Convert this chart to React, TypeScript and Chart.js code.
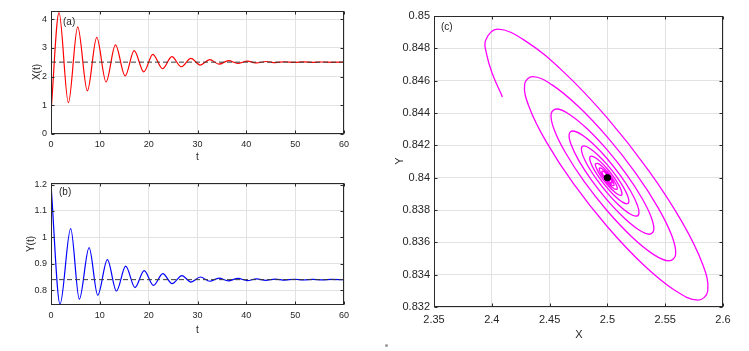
import React, { useEffect, useRef } from "react";
import { Chart, registerables } from "chart.js";

Chart.register(...registerables);

// ---------- data: X(t) (panel a) ----------
const tX = [0, 1.64, 3.56, 5.47, 7.45, 9.37, 11.28, 13.2, 15.18, 17.03, 19.0, 20.86, 22.84, 24.75, 26.67, 28.65, 30.56, 32.5, 34.4, 36.35, 38.25, 40.2, 42.1, 44.05, 45.95, 47.9, 49.8, 51.75, 53.65, 55.6, 57.5, 60];
const xValues = [0.75, 4.22, 1.09, 3.73, 1.5, 3.36, 1.81, 3.1, 2.02, 2.9, 2.16, 2.77, 2.27, 2.69, 2.34, 2.63, 2.4, 2.59, 2.43, 2.555, 2.455, 2.535, 2.472, 2.522, 2.482, 2.514, 2.489, 2.509, 2.493, 2.506, 2.495, 2.502];
const xEquilibrium = 2.5;

// ---------- data: Y(t) (panel b) ----------
const tY = [0, 1.85, 4.03, 5.8, 7.8, 9.57, 11.55, 13.4, 15.3, 17.2, 19.08, 20.98, 22.9, 24.8, 26.8, 28.65, 30.6, 32.5, 34.4, 36.3, 38.3, 40.2, 42.1, 44.0, 45.9, 47.9, 49.8, 51.7, 53.6, 55.5, 57.5, 60];
const yValues = [1.2, 0.747, 1.0335, 0.766, 0.9616, 0.781, 0.916, 0.797, 0.891, 0.81, 0.8745, 0.818, 0.863, 0.825, 0.8556, 0.831, 0.85, 0.834, 0.846, 0.8355, 0.8445, 0.8365, 0.843, 0.8375, 0.8422, 0.8383, 0.8416, 0.8387, 0.8412, 0.839, 0.8408, 0.8397];
const yEquilibrium = 0.84;

// ---------- data: phase portrait (panel c) ----------
const phaseX = [
  2.4092, 2.4003, 2.3955,
  2.3947, 2.405, 2.429, 2.4625, 2.5, 2.5357, 2.5644, 2.5822, 2.5868, 2.5783, 2.5585, 2.5309, 2.5, 2.4705, 2.4469, 2.4322,
  2.4284, 2.4354, 2.4518, 2.4745, 2.5, 2.5243, 2.5438, 2.5559, 2.559, 2.5533, 2.5398, 2.521, 2.5, 2.48, 2.4639, 2.4539,
  2.4513, 2.4561, 2.4672, 2.4827, 2.5, 2.5165, 2.5298, 2.538, 2.5401, 2.5362, 2.5271, 2.5143, 2.5, 2.4864, 2.4754, 2.4687,
  2.4669, 2.4701, 2.4777, 2.4882, 2.5, 2.5112, 2.5203, 2.5258, 2.5273, 2.5246, 2.5184, 2.5097, 2.5, 2.4907, 2.4833, 2.4787,
  2.4775, 2.4797, 2.4848, 2.492, 2.5, 2.5076, 2.5138, 2.5176, 2.5186, 2.5167, 2.5125, 2.5066, 2.5, 2.4937, 2.4886, 2.4855,
  2.4847, 2.4862, 2.4897, 2.4946, 2.5, 2.5052, 2.5094, 2.5119, 2.5126, 2.5114, 2.5085, 2.5045, 2.5, 2.4957, 2.4923, 2.4902,
  2.4896, 2.493, 2.5, 2.5064, 2.5086, 2.5058, 2.5, 2.4948,
  2.4929, 2.4952, 2.5, 2.5043, 2.5058, 2.5039, 2.5, 2.4964,
  2.4952, 2.4968, 2.5, 2.5029, 2.504, 2.5027, 2.5, 2.4976,
  2.5,
];
const phaseY = [
  0.84499, 0.84646, 0.84764,
  0.848503, 0.849183, 0.848461, 0.846512, 0.843682, 0.840437, 0.837279, 0.834676, 0.832988, 0.832428, 0.833023, 0.834631, 0.836964, 0.83964, 0.842243, 0.84439,
  0.845782, 0.846244, 0.845753, 0.844428, 0.842504, 0.840297, 0.83815, 0.83638, 0.835232, 0.834851, 0.835256, 0.836349, 0.837936, 0.839755, 0.841525, 0.842985,
  0.843931, 0.844246, 0.843912, 0.843011, 0.841702, 0.840202, 0.838742, 0.837539, 0.836758, 0.836499, 0.836774, 0.837518, 0.838596, 0.839834, 0.841037, 0.84203,
  0.842673, 0.842887, 0.84266, 0.842047, 0.841157, 0.840137, 0.839145, 0.838326, 0.837796, 0.83762, 0.837807, 0.838312, 0.839046, 0.839887, 0.840705, 0.84138,
  0.841817, 0.841963, 0.841808, 0.841392, 0.840787, 0.840093, 0.839418, 0.838862, 0.838501, 0.838382, 0.838509, 0.838852, 0.839351, 0.839923, 0.840479, 0.840938,
  0.841236, 0.841335, 0.84123, 0.840946, 0.840535, 0.840064, 0.839605, 0.839226, 0.838981, 0.8389, 0.838986, 0.83922, 0.839559, 0.839948, 0.840326, 0.840638,
  0.84084, 0.840836, 0.840364, 0.839731, 0.839307, 0.839311, 0.8397, 0.840222,
  0.840571, 0.840568, 0.840247, 0.839817, 0.839529, 0.839531, 0.839796, 0.840151,
  0.840388, 0.840387, 0.840168, 0.839876, 0.83968, 0.839681, 0.839861, 0.840102,
  0.84,
];
const equilibriumPoint = { x: 2.5, y: 0.84 };

// ---------- tick values / labels ----------
const timeTicks = [0, 10, 20, 30, 40, 50, 60];
const timeTickLabels = ["0", "10", "20", "30", "40", "50", "60"];
const xTicksA = [0, 1, 2, 3, 4];
const xTickLabelsA = ["0", "1", "2", "3", "4"];
const yTicksB = [0.8, 0.9, 1.0, 1.1, 1.2];
const yTickLabelsB = ["0.8", "0.9", "1", "1.1", "1.2"];
const phaseXTicks = [2.35, 2.4, 2.45, 2.5, 2.55, 2.6];
const phaseXTickLabels = ["2.35", "2.4", "2.45", "2.5", "2.55", "2.6"];
const phaseYTicks = [0.832, 0.834, 0.836, 0.838, 0.84, 0.842, 0.844, 0.846, 0.848, 0.85];
const phaseYTickLabels = ["0.832", "0.834", "0.836", "0.838", "0.84", "0.842", "0.844", "0.846", "0.848", "0.85"];

const FONT = '"Liberation Sans Narrow", "Liberation Sans", Arial, sans-serif';
const TEXT_COLOR = "#262626";
const GRID_COLOR = "#e2e2e2";

const framePlugin = {
  id: "frame",
  afterDatasetsDraw(chart: any, _args: any, opts: any) {
    const { ctx, chartArea: a, scales } = chart;
    ctx.save();
    ctx.strokeStyle = "#2a2a2a";
    ctx.lineWidth = 1;
    const l = Math.round(a.left) + 0.5;
    const t = Math.round(a.top) + 0.5;
    const r = Math.round(a.right) - 0.5;
    const b = Math.round(a.bottom) - 0.5;
    ctx.strokeRect(l, t, r - l, b - t);
    const tl = 3;
    ctx.beginPath();
    for (const tk of scales.x.ticks) {
      const px = Math.round(scales.x.getPixelForValue(tk.value)) + 0.5;
      ctx.moveTo(px, b); ctx.lineTo(px, b - tl);
      ctx.moveTo(px, t); ctx.lineTo(px, t + tl);
    }
    for (const tk of scales.y.ticks) {
      const py = Math.round(scales.y.getPixelForValue(tk.value)) + 0.5;
      ctx.moveTo(l, py); ctx.lineTo(l + tl, py);
      ctx.moveTo(r, py); ctx.lineTo(r - tl, py);
    }
    ctx.stroke();
    for (const tx of opts.texts || []) {
      ctx.save();
      ctx.fillStyle = TEXT_COLOR;
      ctx.font = `${tx.size}px ${FONT}`;
      ctx.textAlign = tx.align || "center";
      ctx.textBaseline = "middle";
      ctx.translate(tx.x, tx.y);
      if (tx.rotate) ctx.rotate(tx.rotate);
      ctx.fillText(tx.text, 0, 0);
      ctx.restore();
    }
    ctx.restore();
  },
};

function makeConfig(p: any): any {
  return {
    type: "scatter",
    data: { datasets: p.datasets },
    options: {
      animation: false,
      responsive: false,
      devicePixelRatio: 1,
      layout: { padding: p.padding },
      plugins: {
        legend: { display: false },
        tooltip: { enabled: false },
        frame: { texts: p.texts },
      },
      elements: { point: { radius: 0 } },
      scales: {
        x: {
          type: "linear",
          min: p.xMin,
          max: p.xMax,
          afterBuildTicks: (s: any) => { s.ticks = p.xTicks.map((v: number) => ({ value: v })); },
          afterFit: (s: any) => { s.height = p.xHeight; },
          grid: { color: GRID_COLOR, drawTicks: false, lineWidth: 1 },
          border: { display: false },
          ticks: {
            autoSkip: false,
            maxRotation: 0,
            padding: p.xPad,
            color: TEXT_COLOR,
            font: { family: FONT, size: p.fontSize },
            callback: (_v: any, i: number) => p.xLabels[i],
          },
        },
        y: {
          type: "linear",
          min: p.yMin,
          max: p.yMax,
          afterBuildTicks: (s: any) => { s.ticks = p.yTicks.map((v: number) => ({ value: v })); },
          afterFit: (s: any) => { s.width = p.yWidth; },
          grid: { color: GRID_COLOR, drawTicks: false, lineWidth: 1 },
          border: { display: false },
          ticks: {
            autoSkip: false,
            padding: 4,
            color: TEXT_COLOR,
            font: { family: FONT, size: p.fontSize },
            callback: (_v: any, i: number) => p.yLabels[i],
          },
        },
      },
    },
    plugins: [framePlugin],
  };
}

const dashedStyle = {
  showLine: true,
  borderColor: "#3a3a3a",
  borderWidth: 1,
  borderDash: [5, 3],
  pointRadius: 0,
};

export default function App() {
  const refA = useRef<HTMLCanvasElement>(null);
  const refB = useRef<HTMLCanvasElement>(null);
  const refC = useRef<HTMLCanvasElement>(null);

  useEffect(() => {
    const cfgA = makeConfig({
      datasets: [
        {
          data: tX.map((t, i) => ({ x: t, y: xValues[i] })),
          showLine: true,
          borderColor: "#ff0000",
          borderWidth: 1.2,
          cubicInterpolationMode: "monotone",
          pointRadius: 0,
          order: 2,
        },
        { ...dashedStyle, data: [{ x: 0, y: xEquilibrium }, { x: 60, y: xEquilibrium }], order: 1 },
      ],
      xMin: 0, xMax: 60, yMin: 0, yMax: 4.28,
      xTicks: timeTicks, xLabels: timeTickLabels,
      yTicks: xTicksA, yLabels: xTickLabelsA,
      yWidth: 51, xHeight: 36, padding: { left: 0, top: 11, right: 16, bottom: 0 },
      xPad: 5, fontSize: 9,
      texts: [
        { text: "(a)", x: 63, y: 22, size: 10, align: "left" },
        { text: "X(t)", x: 37, y: 72, size: 10, rotate: -Math.PI / 2 },
        { text: "t", x: 197.5, y: 157, size: 10 },
      ],
    });
    const cfgB = makeConfig({
      datasets: [
        {
          data: tY.map((t, i) => ({ x: t, y: yValues[i] })),
          showLine: true,
          borderColor: "#0000ff",
          borderWidth: 1.2,
          cubicInterpolationMode: "monotone",
          pointRadius: 0,
          order: 2,
        },
        { ...dashedStyle, data: [{ x: 0, y: yEquilibrium }, { x: 60, y: yEquilibrium }], order: 1 },
      ],
      xMin: 0, xMax: 60, yMin: 0.744, yMax: 1.206,
      xTicks: timeTicks, xLabels: timeTickLabels,
      yTicks: yTicksB, yLabels: yTickLabelsB,
      yWidth: 51, xHeight: 46, padding: { left: 0, top: 13, right: 16, bottom: 0 },
      xPad: 5, fontSize: 9,
      texts: [
        { text: "(b)", x: 59, y: 22.5, size: 10, align: "left" },
        { text: "Y(t)", x: 31, y: 74, size: 10, rotate: -Math.PI / 2 },
        { text: "t", x: 197.5, y: 160, size: 10 },
      ],
    });
    const cfgC = makeConfig({
      datasets: [
        {
          data: [{ x: equilibriumPoint.x, y: equilibriumPoint.y }],
          showLine: false,
          pointRadius: 3.2,
          pointBackgroundColor: "#000000",
          pointBorderColor: "#000000",
          order: 1,
        },
        {
          data: phaseX.map((x, i) => ({ x, y: phaseY[i] })),
          showLine: true,
          borderColor: "#ff00ff",
          borderWidth: 1.3,
          tension: 0.4,
          pointRadius: 0,
          order: 2,
        },
      ],
      xMin: 2.35, xMax: 2.6, yMin: 0.832, yMax: 0.85,
      xTicks: phaseXTicks, xLabels: phaseXTickLabels,
      yTicks: phaseYTicks, yLabels: phaseYTickLabels,
      yWidth: 74, xHeight: 44, padding: { left: 0, top: 16, right: 26, bottom: 0 },
      xPad: 6, fontSize: 11,
      texts: [
        { text: "(c)", x: 81, y: 27, size: 10, align: "left" },
        { text: "Y", x: 40, y: 161, size: 11, rotate: -Math.PI / 2 },
        { text: "X", x: 219, y: 335, size: 11 },
      ],
    });
    const charts = [
      new Chart(refA.current!, cfgA),
      new Chart(refB.current!, cfgB),
      new Chart(refC.current!, cfgC),
    ];
    return () => charts.forEach((c) => c.destroy());
  }, []);

  return (
    <div style={{ position: "absolute", left: 0, top: 0, width: 749, height: 351, background: "#ffffff", overflow: "hidden" }}>
      <canvas ref={refA} width={360} height={170} style={{ position: "absolute", left: 0, top: 0, width: 360, height: 170 }} />
      <canvas ref={refB} width={360} height={181} style={{ position: "absolute", left: 0, top: 170, width: 360, height: 181 }} />
      <canvas ref={refC} width={389} height={351} style={{ position: "absolute", left: 360, top: 0, width: 389, height: 351 }} />
      <div style={{ position: "absolute", left: 385, top: 344, width: 3, height: 3, borderRadius: "50%", background: "#9a9a9a" }} />
    </div>
  );
}
